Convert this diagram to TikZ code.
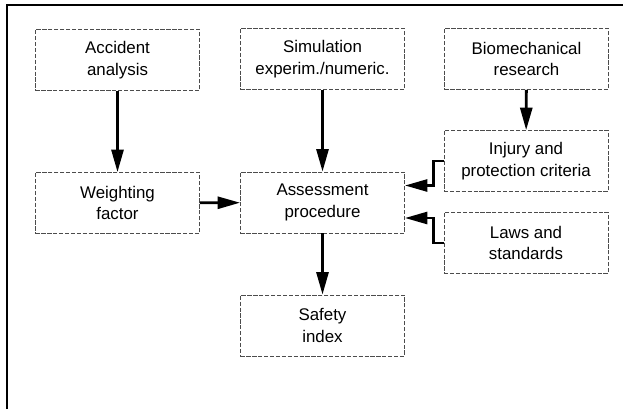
\documentclass[tikz,border=0pt]{standalone}
\usepackage{fontspec}
\setmainfont{Liberation Sans}
\usetikzlibrary{arrows.meta,calc}
\begin{document}
\begin{tikzpicture}[x=0.025cm, y=-0.025cm,
    box/.style={draw=black!70, dash pattern=on 3pt off 1.2pt, line width=0.5pt,
        minimum width=4.1cm, minimum height=1.525cm, align=center,
        font=\fontsize{12}{15.5}\selectfont},
    arr/.style={-{Triangle[length=16pt,width=8.5pt]}, line width=2pt}]
\useasboundingbox (0,0) rectangle (623,409);
\draw[line width=1.4pt](7,409)--(7,5)--(623,5);

\node[box] (acc) at (117.5,60) {Accident\\analysis};
\node[box] (sim) at (322.5,59) {Simulation\\experim./numeric.};
\node[box] (bio) at (526.5,59) {Biomechanical\\research};
\node[box] (wgt) at (117.5,203) {Weighting\\factor};
\node[box] (ass) at (322.5,202.5) {Assessment\\procedure};
\node[box] (inj) at (526,161) {Injury and\\protection criteria};
\node[box] (law) at (526,243) {Laws and\\standards};
\node[box] (saf) at (322.5,325.5) {Safety\\index};

\draw[arr](acc)--(wgt);
\draw[arr](sim)--(ass);
\draw[arr](bio)--(inj);
\draw[arr](wgt)--(ass);
\draw[arr](ass)--(saf);
\draw[arr](inj.west)--++(-10,0)|-($(ass.east)+(0,-17)$);
\draw[arr](law.west)--++(-10,0)|-($(ass.east)+(0,15.5)$);

\end{tikzpicture}
\end{document}
